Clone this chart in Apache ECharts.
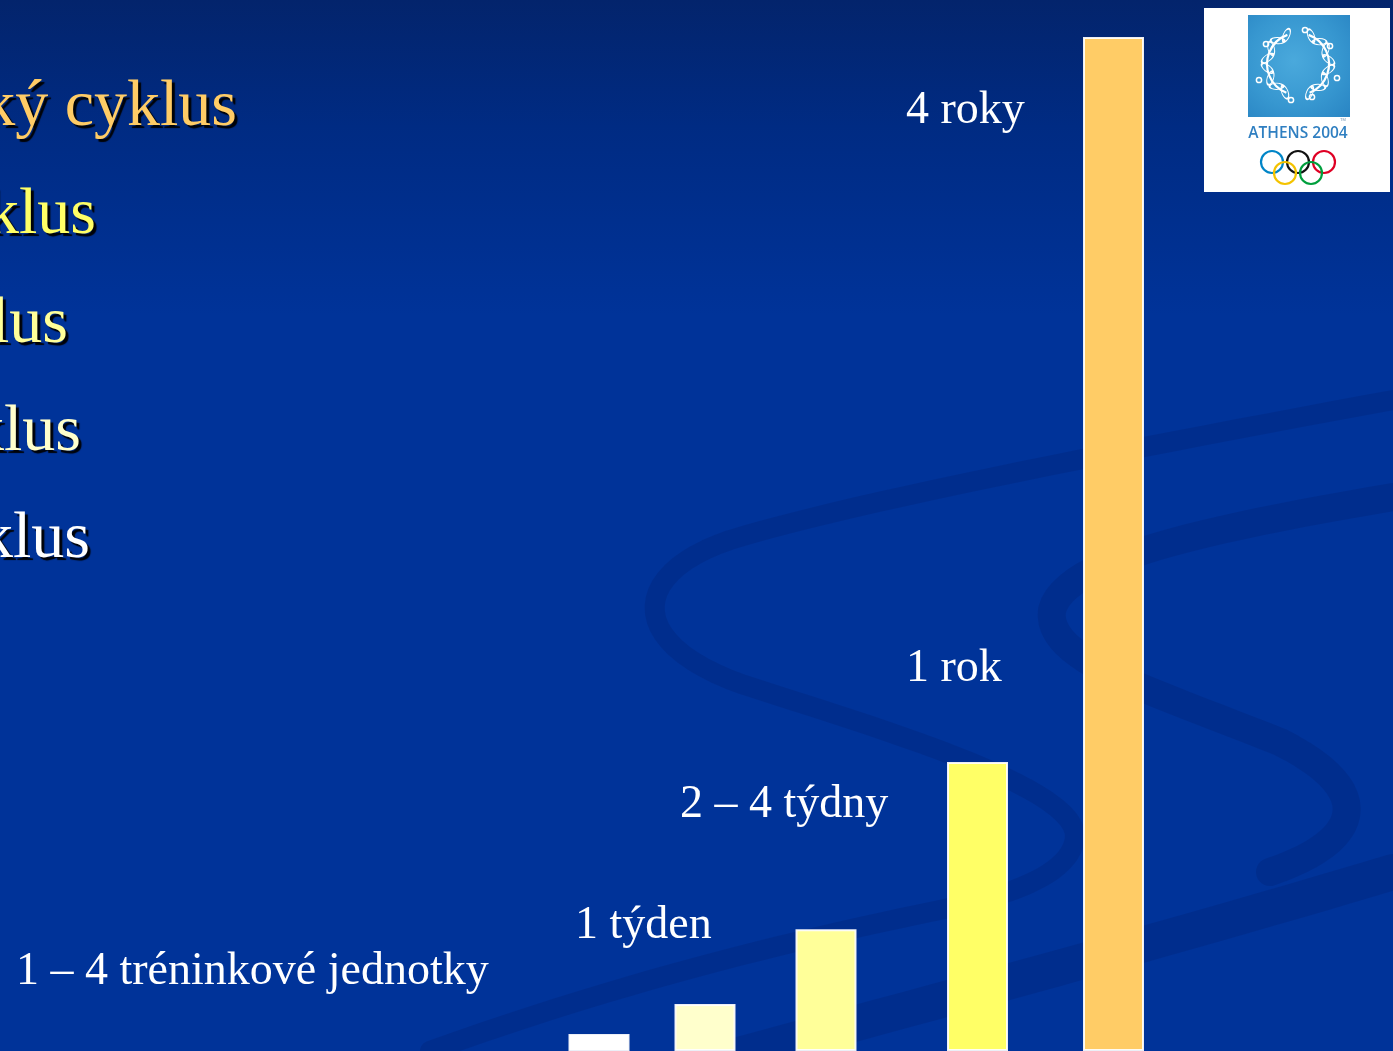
<!DOCTYPE html>
<html>
<head>
<meta charset="utf-8">
<script src="https://cdn.jsdelivr.net/npm/echarts/dist/echarts.min.js"></script>
<style>
  html, body { margin: 0; padding: 0; background: #003399; }
  #chart { width: 1393px; height: 1051px; }
</style>
</head>
<body>
<div id="chart"></div>
<script>
// Training cycles, from the longest to the shortest
const cycles = ['Olympijský cyklus', 'Makrocyklus', 'Mezocyklus', 'Mikrocyklus', 'Denní cyklus'];
const cycleColors = ['#ffcc66', '#ffff66', '#ffff99', '#ffffcc', '#ffffff'];

// Bars, from the shortest to the longest cycle
const durations = ['1 – 4 tréninkové jednotky', '1 týden', '2 – 4 týdny', '1 rok', '4 roky'];
const barHeights = [1.68, 4.64, 12.0, 28.5, 100];
const barSlots = [5.99, 7.05, 8.26, 9.775, 11.135];
const barColors = ['#ffffff', '#ffffcc', '#ffff99', '#ffff66', '#ffcc66'];

const chart = echarts.init(document.getElementById('chart'), null, { renderer: 'canvas' });

const SERIF = '"Liberation Serif", "Times New Roman", serif';

// convert a baseline position to the middle-aligned anchor zrender uses
function baselineY(baseline, size) { return baseline - 0.27 * size; }

// cycle names on the left, partly running off the slide edge
const cycleRight = [237, 96, 68, 81, 90];
const cycleBase = [125, 233, 342, 450, 557];
const cycleTexts = cycles.map((name, i) => ({
  type: 'text', z: 20, silent: true,
  style: {
    text: name, x: cycleRight[i], y: baselineY(cycleBase[i], 66),
    align: 'right', verticalAlign: 'middle',
    font: '66px ' + SERIF, fill: cycleColors[i],
    textShadowColor: 'rgba(0,0,0,0.95)', textShadowOffsetX: 3, textShadowOffsetY: 3, textShadowBlur: 1
  }
}));

// duration captions next to the bars
const capLeft = [16, 575, 680, 906, 906];
const capBase = [984, 938, 817, 681, 123];
const captionTexts = durations.map((t, i) => ({
  type: 'text', z: 20, silent: true,
  style: {
    text: t, x: capLeft[i], y: baselineY(capBase[i], 46),
    align: 'left', verticalAlign: 'middle',
    font: '46px ' + SERIF, fill: '#ffffff'
  }
}));

// faint ribbons of the slide background, each traced as one smooth polyline
const ribbon = 'rgba(0, 30, 110, 0.26)';
const ribbonChains = [
  { w: 20, pts: [[1393, 400], [1150, 445], [860, 500], [730, 540], [625, 575], [625, 650], [760, 690],
                 [900, 735], [1080, 790], [1075, 838], [1070, 880], [990, 900], [930, 912],
                 [820, 935], [640, 975], [430, 1051]] },
  { w: 28, pts: [[1393, 497], [1200, 530], [1065, 560], [1052, 610], [1045, 660], [1150, 690], [1280, 742],
                 [1380, 792], [1360, 842], [1270, 872]] },
  { w: 36, pts: [[1393, 872], [1200, 930], [980, 990], [720, 1060]] }
];
function traceCubic(p) {
  const out = [];
  for (let k = 0; k + 3 < p.length; k += 3) {
    for (let s = (k === 0 ? 0 : 1); s <= 24; s++) {
      const t = s / 24, u = 1 - t;
      const a = u * u * u, b = 3 * u * u * t, c = 3 * u * t * t, d = t * t * t;
      out.push([a * p[k][0] + b * p[k + 1][0] + c * p[k + 2][0] + d * p[k + 3][0],
                a * p[k][1] + b * p[k + 1][1] + c * p[k + 2][1] + d * p[k + 3][1]]);
    }
  }
  return out;
}
const ribbons = ribbonChains.map(c => ({
  type: 'polyline', z: 0, silent: true,
  shape: { points: traceCubic(c.pts) },
  style: { fill: 'none', stroke: ribbon, lineWidth: c.w, lineCap: 'round', lineJoin: 'round' }
}));

// Athens 2004 emblem: wreath on a blue square, caption and rings
const wreath = [];
const wc = [1298, 64], wr = 31;
for (let k = 0; k < 16; k++) {
  const a = (k < 8 ? 112 + k * 19 : -68 + (k - 8) * 19) * Math.PI / 180;
  const x = wc[0] + wr * Math.cos(a), y = wc[1] - wr * Math.sin(a);
  wreath.push({
    type: 'circle', silent: true, z: 31,
    x: x, y: y, rotation: a + (k % 2 ? 0.8 : -0.8), scaleX: 1, scaleY: 0.45,
    shape: { cx: 0, cy: 0, r: 7 },
    style: { fill: 'none', stroke: '#ffffff', lineWidth: 2 }
  });
}
wreath.push({
  type: 'arc', silent: true, z: 31,
  shape: { cx: wc[0], cy: wc[1], r: wr, startAngle: 112 * Math.PI / 180, endAngle: 250 * Math.PI / 180 },
  style: { stroke: '#ffffff', lineWidth: 2.2, fill: 'none' }
});
wreath.push({
  type: 'arc', silent: true, z: 31,
  shape: { cx: wc[0], cy: wc[1], r: wr, startAngle: -70 * Math.PI / 180, endAngle: 68 * Math.PI / 180 },
  style: { stroke: '#ffffff', lineWidth: 2.2, fill: 'none' }
});
[[1266, 44], [1330, 46], [1291, 100], [1312, 97], [1259, 80], [1337, 78], [1305, 30]].forEach(p => wreath.push({
  type: 'circle', silent: true, z: 31,
  shape: { cx: p[0], cy: p[1], r: 2.6 },
  style: { fill: 'none', stroke: '#ffffff', lineWidth: 1.5 }
}));

const ringSpec = [
  [1272, 162, '#0085c7'], [1298, 162, '#111111'], [1324, 162, '#df0024'],
  [1285, 173, '#f4c300'], [1311, 173, '#009f3d']
];
const rings = ringSpec.map(r => ({
  type: 'circle', silent: true, z: 31,
  shape: { cx: r[0], cy: r[1], r: 11 },
  style: { fill: 'none', stroke: r[2], lineWidth: 2.2 }
}));

const emblem = [
  { type: 'rect', z: 30, silent: true, shape: { x: 1204, y: 8, width: 186, height: 184 }, style: { fill: '#ffffff' } },
  {
    type: 'rect', z: 30, silent: true, shape: { x: 1248, y: 15, width: 102, height: 102 },
    style: {
      fill: { type: 'radial', x: 0.45, y: 0.45, r: 0.75,
        colorStops: [{ offset: 0, color: '#4aa9dc' }, { offset: 0.6, color: '#3797d0' }, { offset: 1, color: '#2a86c4' }] }
    }
  },
  { type: 'text', z: 31, silent: true, style: { text: 'TM', x: 1343, y: 120, align: 'center', verticalAlign: 'middle', font: '4px sans-serif', fill: '#6a8fb0' } },
  { type: 'text', z: 31, silent: true, style: { text: 'ATHENS 2004', x: 1298, y: 134, align: 'center', verticalAlign: 'middle', font: '600 15.5px "Open Sans", sans-serif', fill: '#2f7fc1' } }
].concat(wreath, rings);

chart.setOption({
  animation: false,
  backgroundColor: {
    type: 'linear', x: 0, y: 0, x2: 0, y2: 1,
    colorStops: [
      { offset: 0, color: '#03246c' },
      { offset: 0.12, color: '#002b83' },
      { offset: 0.3, color: '#003399' },
      { offset: 1, color: '#003399' }
    ]
  },
  grid: { left: 0, right: 0, top: 37, bottom: 0 },
  xAxis: { type: 'value', min: 0, max: 13.93, show: false },
  yAxis: { type: 'value', min: 0, max: 100, show: false },
  series: [{
    type: 'bar',
    z: 5,
    silent: true,
    barWidth: 61,
    itemStyle: { borderColor: 'rgba(255,255,255,0.92)', borderWidth: 2 },
    data: barHeights.map((v, i) => ({ value: [barSlots[i], v], itemStyle: { color: barColors[i] } }))
  }],
  graphic: { elements: ribbons.concat(cycleTexts, captionTexts, emblem) }
});
</script>
</body>
</html>
